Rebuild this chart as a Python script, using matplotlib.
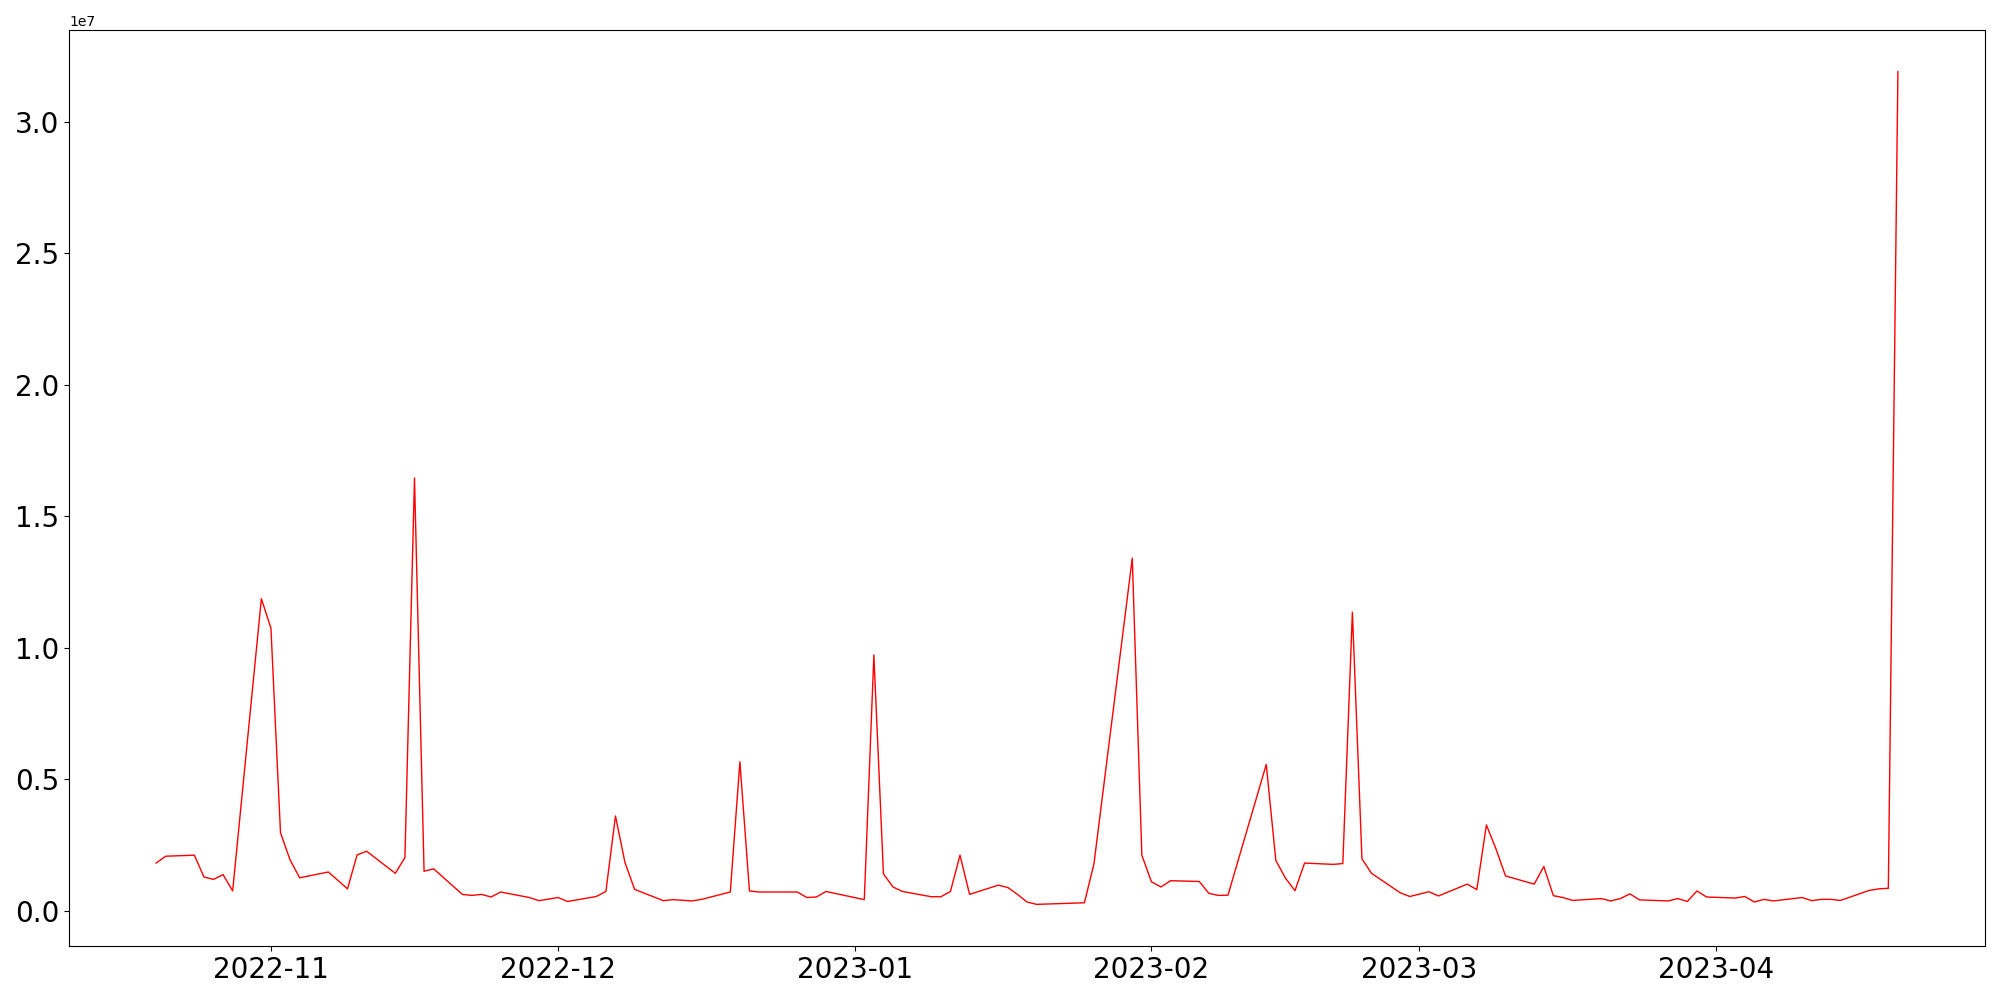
import matplotlib
matplotlib.use("Agg")
import matplotlib.pyplot as plt
import pandas as pd

# trading days
dates = [
    "2022-10-20", "2022-10-21", "2022-10-24", "2022-10-25", "2022-10-26", "2022-10-27", "2022-10-28",
    "2022-10-31", "2022-11-01", "2022-11-02", "2022-11-03", "2022-11-04", "2022-11-07", "2022-11-09",
    "2022-11-10", "2022-11-11", "2022-11-14", "2022-11-15", "2022-11-16", "2022-11-17", "2022-11-18",
    "2022-11-21", "2022-11-22", "2022-11-23", "2022-11-24", "2022-11-25", "2022-11-28", "2022-11-29",
    "2022-12-01", "2022-12-02", "2022-12-05", "2022-12-06", "2022-12-07", "2022-12-08", "2022-12-09",
    "2022-12-12", "2022-12-13", "2022-12-15", "2022-12-16", "2022-12-19", "2022-12-20", "2022-12-21",
    "2022-12-22", "2022-12-23", "2022-12-26", "2022-12-27", "2022-12-28", "2022-12-29",
    "2023-01-02", "2023-01-03", "2023-01-04", "2023-01-05", "2023-01-06", "2023-01-09", "2023-01-10",
    "2023-01-11", "2023-01-12", "2023-01-13", "2023-01-16", "2023-01-17", "2023-01-18", "2023-01-19",
    "2023-01-20", "2023-01-25", "2023-01-26", "2023-01-30", "2023-01-31",
    "2023-02-01", "2023-02-02", "2023-02-03", "2023-02-06", "2023-02-07", "2023-02-08", "2023-02-09",
    "2023-02-13", "2023-02-14", "2023-02-15", "2023-02-16", "2023-02-17", "2023-02-20", "2023-02-21",
    "2023-02-22", "2023-02-23", "2023-02-24", "2023-02-27", "2023-02-28",
    "2023-03-02", "2023-03-03", "2023-03-06", "2023-03-07", "2023-03-08", "2023-03-09", "2023-03-10",
    "2023-03-13", "2023-03-14", "2023-03-15", "2023-03-16", "2023-03-17", "2023-03-20", "2023-03-21",
    "2023-03-22", "2023-03-23", "2023-03-24", "2023-03-27", "2023-03-28", "2023-03-29", "2023-03-30",
    "2023-03-31", "2023-04-03", "2023-04-04", "2023-04-05", "2023-04-06", "2023-04-07", "2023-04-10",
    "2023-04-11", "2023-04-12", "2023-04-13", "2023-04-14", "2023-04-17", "2023-04-18", "2023-04-19",
    "2023-04-20",
]

# volume in millions
volume_m = [
    1.81, 2.07, 2.11, 1.28, 1.19, 1.37, 0.75,
    11.86, 10.74, 2.96, 1.93, 1.25, 1.47, 0.83,
    2.12, 2.26, 1.42, 2.02, 16.45, 1.50, 1.59,
    0.62, 0.58, 0.62, 0.52, 0.71, 0.50, 0.38,
    0.50, 0.35, 0.54, 0.73, 3.60, 1.82, 0.81,
    0.38, 0.42, 0.37, 0.43, 0.71, 5.66, 0.75,
    0.71, 0.71, 0.71, 0.50, 0.52, 0.73,
    0.42, 9.72, 1.40, 0.90, 0.73, 0.53, 0.53,
    0.73, 2.11, 0.62, 0.97, 0.88, 0.62, 0.33,
    0.24, 0.30, 1.79, 13.40, 2.11,
    1.10, 0.90, 1.14, 1.11, 0.66, 0.58, 0.59,
    5.56, 1.91, 1.24, 0.76, 1.81, 1.76, 1.79,
    11.35, 1.97, 1.42, 0.68, 0.54,
    0.72, 0.56, 1.01, 0.80, 3.26, 2.35, 1.32,
    1.01, 1.68, 0.57, 0.50, 0.39, 0.46, 0.37,
    0.46, 0.64, 0.41, 0.37, 0.46, 0.35, 0.75,
    0.52, 0.48, 0.54, 0.33, 0.43, 0.37, 0.50,
    0.38, 0.43, 0.43, 0.39, 0.77, 0.83, 0.85,
    31.9,
]

x = pd.to_datetime(dates)
y = [v * 1e6 for v in volume_m]

fig, ax = plt.subplots(figsize=(20, 10), dpi=100)
ax.plot(x, y, color="red", linewidth=1.0)
ax.tick_params(axis="both", labelsize=20)
fig.subplots_adjust(left=0.0345, right=0.9925, bottom=0.054, top=0.970)
fig.savefig("out.png")
